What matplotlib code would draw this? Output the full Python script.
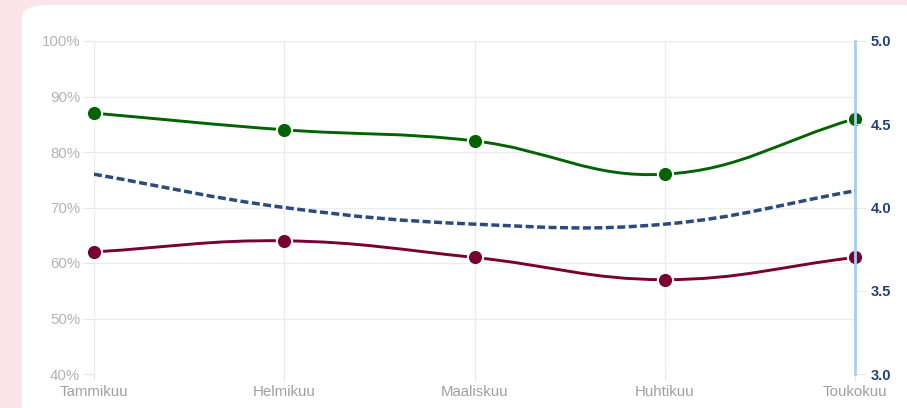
import numpy as np
import matplotlib.pyplot as plt
from matplotlib.path import Path
from matplotlib.patches import PathPatch, FancyBboxPatch

plt.rcParams['font.family'] = ['Liberation Sans', 'DejaVu Sans']

months = ['Tammikuu', 'Helmikuu', 'Maaliskuu', 'Huhtikuu', 'Toukokuu']
green_pct = [87, 84, 82, 76, 86]
red_pct = [62, 64, 61, 57, 61]
blue_score = [4.2, 4.0, 3.9, 3.9, 4.1]

green_col = '#006400'
red_col = '#780032'
blue_col = '#2a4a80'


def smooth_path(ax, xs, ys, tension=0.4):
    # Chart.js-style bezier control points, computed in pixel space
    pts = ax.transData.transform(np.column_stack([xs, ys]))
    n = len(pts)
    verts = [pts[0]]
    codes = [Path.MOVETO]
    cps = []
    for i in range(n):
        prev = pts[max(i - 1, 0)]
        cur = pts[i]
        nxt = pts[min(i + 1, n - 1)]
        d01 = np.hypot(*(cur - prev))
        d12 = np.hypot(*(nxt - cur))
        tot = d01 + d12
        s01 = d01 / tot if tot else 0
        s12 = d12 / tot if tot else 0
        cps.append((cur - tension * s01 * (nxt - prev), cur + tension * s12 * (nxt - prev)))
    for i in range(1, n):
        verts += [cps[i - 1][1], cps[i][0], pts[i]]
        codes += [Path.CURVE4] * 3
    verts = ax.transData.inverted().transform(np.array(verts))
    return Path(verts, codes)


fig = plt.figure(figsize=(9.07, 4.08), dpi=100)
fig.patch.set_facecolor('#fbe5ea')
card = FancyBboxPatch((22 / 907, -0.2), 1.0, 1.2 - 5 / 408, boxstyle='round,pad=0,rounding_size=0.03',
                      transform=fig.transFigure, facecolor='white', edgecolor='none', zorder=-5)
fig.add_artist(card)

ax = fig.add_axes([94 / 907, 1 - 374 / 408, (855 - 94) / 907, (374 - 41) / 408])
ax.set_facecolor('none')
x = np.arange(len(months))
ax.set_xlim(0, len(months) - 1)
ax.set_ylim(40, 100)
ax2 = ax.twinx()
ax2.set_ylim(3.0, 5.0)

for s in ['top', 'bottom', 'left', 'right']:
    ax.spines[s].set_visible(False)
    ax2.spines[s].set_visible(False)
ax2.spines['right'].set_visible(True)
ax2.spines['right'].set_color('#a8cdf0')
ax2.spines['right'].set_linewidth(2)

ax.set_yticks(np.arange(40, 101, 10))
ax.set_yticklabels([f'{v}%' for v in range(40, 101, 10)])
ax.set_xticks(x)
ax.set_xticklabels(months)
ax.grid(True, color='#ececec', linewidth=1)
ax.set_axisbelow(True)
ax.tick_params(axis='y', colors='#e6e6e6', labelcolor='#b3b3b3', labelsize=10.8, length=8, pad=2)
ax.tick_params(axis='x', colors='#e6e6e6', labelcolor='#a0a0a0', labelsize=10.8, length=5, pad=3)

ax2.set_yticks([3.0, 3.5, 4.0, 4.5, 5.0])
ax2.set_yticklabels(['3.0', '3.5', '4.0', '4.5', '5.0'], fontweight='bold')
ax2.tick_params(axis='y', colors='#e6e6e6', labelcolor='#1f3f7a', labelsize=10.5, length=8, pad=3)

for vals, col in [(green_pct, green_col), (red_pct, red_col)]:
    ax.add_patch(PathPatch(smooth_path(ax, x, vals), facecolor='none', edgecolor=col,
                           linewidth=2.1, zorder=3))
    ax.plot(x, vals, 'o', markersize=11, markerfacecolor=col, markeredgecolor='white',
            markeredgewidth=1.5, zorder=4, clip_on=False)

ax2.add_patch(PathPatch(smooth_path(ax2, x, blue_score), facecolor='none', edgecolor=blue_col,
                        linewidth=2.5, linestyle=(0, (2.3, 1.0)), zorder=3))

fig.savefig('out.png', dpi=100)
